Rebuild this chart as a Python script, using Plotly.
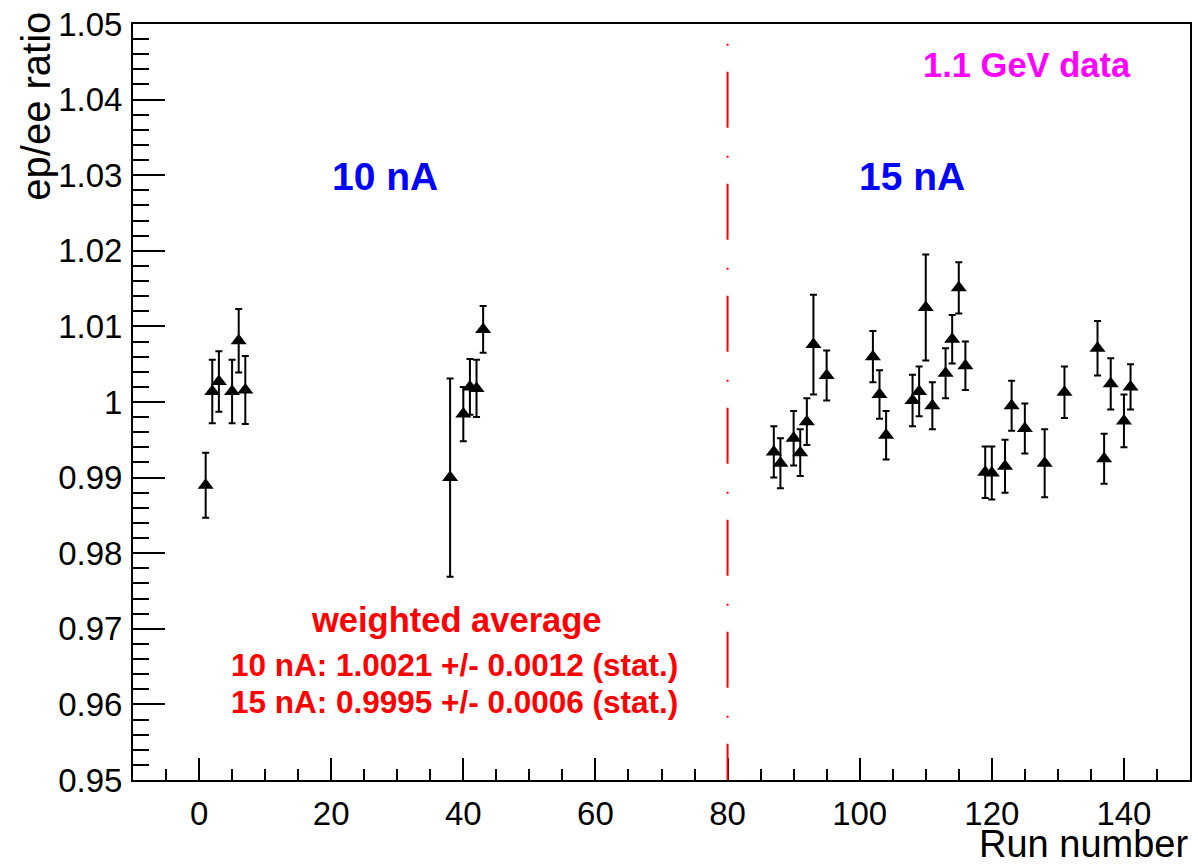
import plotly.graph_objects as go

# ---- data ----
runs_10nA = [1, 2, 3, 5, 6, 7, 38, 40, 41, 42, 43]
ratio_10nA = [0.9890, 1.0014, 1.0027, 1.0014, 1.0081, 1.0016, 0.9900, 0.9984, 1.0020, 1.0018, 1.0096]
err_10nA = [0.0043, 0.0042, 0.0040, 0.0042, 0.0042, 0.0045, 0.0131, 0.0036, 0.0037, 0.0038, 0.0031]

runs_15nA = [87, 88, 90, 91, 92, 93, 95, 102, 103, 104, 108, 109, 110, 111, 113, 114, 115, 116,
             119, 120, 122, 123, 125, 128, 131, 136, 137, 138, 140, 141]
ratio_15nA = [0.9934, 0.9919, 0.9952, 0.9933, 0.9974, 1.0076, 1.0035, 1.0060, 1.0010, 0.9956,
              1.0002, 1.0014, 1.0125, 0.9995, 1.0038, 1.0083, 1.0151, 1.0048,
              0.9907, 0.9906, 0.9915, 0.9995, 0.9965, 0.9919, 1.0013, 1.0071, 0.9925, 1.0024, 0.9975, 1.0020]
err_15nA = [0.0034, 0.0033, 0.0036, 0.0031, 0.0031, 0.0066, 0.0033, 0.0034, 0.0032, 0.0032,
            0.0034, 0.0033, 0.0070, 0.0031, 0.0033, 0.0032, 0.0034, 0.0032,
            0.0034, 0.0035, 0.0035, 0.0033, 0.0033, 0.0045, 0.0034, 0.0036, 0.0033, 0.0034, 0.0035, 0.0030]

x_range = [-10, 150]
y_range = [0.95, 1.05]
split_run = 80

FONT = "Liberation Sans, Arial, Helvetica, sans-serif"

fig = go.Figure()
for xs, ys, es in [(runs_10nA, ratio_10nA, err_10nA), (runs_15nA, ratio_15nA, err_15nA)]:
    fig.add_trace(go.Scatter(
        x=xs, y=ys, mode="markers",
        marker=dict(symbol="triangle-up", size=14, color="black"),
        error_y=dict(type="data", array=es, visible=True, color="black", thickness=2, width=3.5),
        showlegend=False, cliponaxis=False,
    ))

fig.add_shape(type="line", xref="x", yref="y", x0=split_run, x1=split_run, y0=1.0474, y1=0.95,
              line=dict(color="#ff0000", width=2, dash="2px,26px,56px,28px"))

ann = []
ann.append(dict(x=28.2, y=1.0298, text="<b>10 nA</b>", font=dict(size=39, color="#0000ff", family=FONT)))
ann.append(dict(x=107.9, y=1.0298, text="<b>15 nA</b>", font=dict(size=39, color="#0000ff", family=FONT)))
ann.append(dict(x=125.3, y=1.0446, text="<b>1.1 GeV data</b>", font=dict(size=34.5, color="#ff00ff", family=FONT)))
ann.append(dict(x=38.9, y=0.9711, text="<b>weighted average</b>", font=dict(size=34.5, color="#ff0000", family=FONT)))
ann.append(dict(x=38.6, y=0.9652, text="<b>10 nA: 1.0021 +/- 0.0012 (stat.)</b>", font=dict(size=31.5, color="#ff0000", family=FONT)))
ann.append(dict(x=38.6, y=0.9603, text="<b>15 nA: 0.9995 +/- 0.0006 (stat.)</b>", font=dict(size=31.5, color="#ff0000", family=FONT)))
for a in ann:
    a.update(xref="x", yref="y", showarrow=False, xanchor="center", yanchor="middle")
    fig.add_annotation(**a)

fig.add_annotation(xref="paper", yref="paper", x=-0.0915, y=0.891, text="ep/ee ratio", textangle=-90,
                   showarrow=False, xanchor="center", yanchor="middle",
                   font=dict(size=40, color="black", family=FONT))
fig.add_annotation(xref="paper", yref="paper", x=1.0, y=-0.085, text="Run number",
                   showarrow=False, xanchor="right", yanchor="middle",
                   font=dict(size=38, color="black", family=FONT))

fig.update_layout(
    width=1198, height=865,
    margin=dict(l=133, r=6, t=19, b=85),
    paper_bgcolor="white", plot_bgcolor="white",
    font=dict(family=FONT, color="black"),
)
fig.update_xaxes(
    range=x_range, dtick=20, tick0=0, ticks="inside", ticklen=22, tickwidth=1.5, tickcolor="black",
    showline=True, linecolor="black", linewidth=2, mirror=True, showgrid=False, zeroline=False,
    tickfont=dict(size=33, family=FONT, color="black"), ticklabelstandoff=3,
    minor=dict(dtick=5, ticks="inside", ticklen=11, tickwidth=1.5, tickcolor="black", showgrid=False),
)
fig.update_yaxes(
    range=y_range, dtick=0.01, tick0=0.95, ticks="inside", ticklen=32, tickwidth=1.5, tickcolor="black",
    showline=True, linecolor="black", linewidth=2, mirror=True, showgrid=False, zeroline=False,
    tickfont=dict(size=33, family=FONT, color="black"), ticklabelstandoff=2,
    minor=dict(dtick=0.002, ticks="inside", ticklen=16, tickwidth=1.5, tickcolor="black", showgrid=False),
)

fig.write_html("out.html")
